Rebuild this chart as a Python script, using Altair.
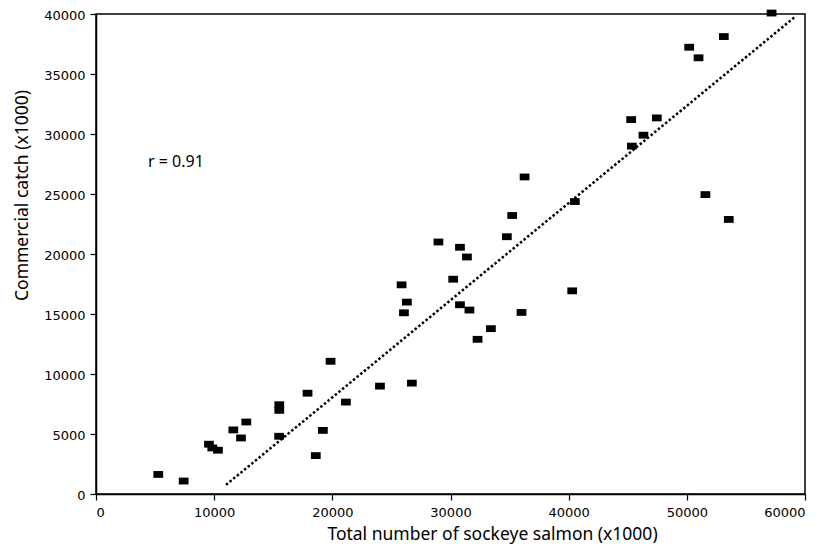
import altair as alt
import pandas as pd

# Scatter data (x1000)
total_salmon = [5270, 7420, 9560, 9840, 10320, 11620, 12270, 12720, 15510, 15510,
                15500, 17900, 18600, 19200, 19850, 21150, 24030, 26730, 25860, 26310,
                26060, 28980, 30800, 31390, 30230, 30800, 31600, 32290, 33420, 36010,
                34770, 35220, 36270, 40300, 40520, 45290, 47460, 46330, 45350, 50200,
                50990, 53130, 57170, 51570, 53550]
commercial_catch = [1630, 1080, 4150, 3840, 3650, 5340, 4670, 6000, 7440, 6970,
                    4810, 8400, 3200, 5300, 11060, 7660, 8990, 9240, 17430, 15990,
                    15100, 21000, 20560, 19750, 17900, 15770, 15330, 12890, 13780, 15130,
                    21440, 23210, 26420, 16930, 24370, 31200, 31340, 29900, 28990, 37230,
                    36350, 38120, 40080, 24950, 22880]

# Fitted line end points
line_x = [11000, 59100]
line_y = [760, 39720]

# Annotation
note_x = [4400]
note_y = [27700]
note_text = ["r = 0.91"]

x_ticks = [0, 10000, 20000, 30000, 40000, 50000, 60000]
y_ticks = [0, 5000, 10000, 15000, 20000, 25000, 30000, 35000, 40000]

pts = pd.DataFrame({"x": total_salmon, "y": commercial_catch})
fit = pd.DataFrame({"x": line_x, "y": line_y})
note = pd.DataFrame({"x": note_x, "y": note_y, "t": note_text})

xscale = alt.Scale(domain=[0, 60000], nice=False, zero=False)
yscale = alt.Scale(domain=[0, 40000], nice=False, zero=False)

xaxis = alt.Axis(title="Total number of sockeye salmon (x1000)",
                 values=x_ticks, format="d", grid=False, tickSize=6,
                 labelPadding=6, titleX=396, titleY=45,
                 titleAlign="center", titleBaseline="alphabetic")
yaxis = alt.Axis(title="Commercial catch (x1000)",
                 values=y_ticks, format="d", grid=False, tickSize=6,
                 labelPadding=5, labelOffset=1, titleX=-74, titleY=181,
                 titleAlign="center", titleBaseline="middle", titleAngle=-90)

points = alt.Chart(pts).mark_point(
    shape="M-1,-0.7H1V0.7H-1Z", filled=True, color="black", opacity=1, size=95
).encode(
    x=alt.X("x:Q", scale=xscale, axis=xaxis),
    y=alt.Y("y:Q", scale=yscale, axis=yaxis),
)

line = alt.Chart(fit).mark_line(
    color="black", strokeWidth=2.5, strokeDash=[2.5, 2.2]
).encode(x=alt.X("x:Q", scale=xscale), y=alt.Y("y:Q", scale=yscale))

text = alt.Chart(note).mark_text(
    align="left", baseline="middle", fontSize=16, font="Noto Sans", color="black"
).encode(x=alt.X("x:Q", scale=xscale), y=alt.Y("y:Q", scale=yscale), text="t:N")

chart = alt.layer(line, points, text).properties(
    width=709, height=480,
    autosize=alt.AutoSizeParams(type="none"),
    padding={"left": 88, "top": 6, "right": 17, "bottom": 52},
    background="white",
).configure_view(
    stroke="black", strokeWidth=1.5
).configure_axis(
    domainColor="black", domainWidth=1.5, tickColor="black", tickWidth=1.2,
    labelColor="black", labelFont="DejaVu Sans", labelFontSize=13,
    titleColor="black", titleFont="Noto Sans", titleFontSize=17.5,
    titleFontWeight="normal"
)

chart.save("out.html", embed_options={"renderer": "svg", "actions": False})
